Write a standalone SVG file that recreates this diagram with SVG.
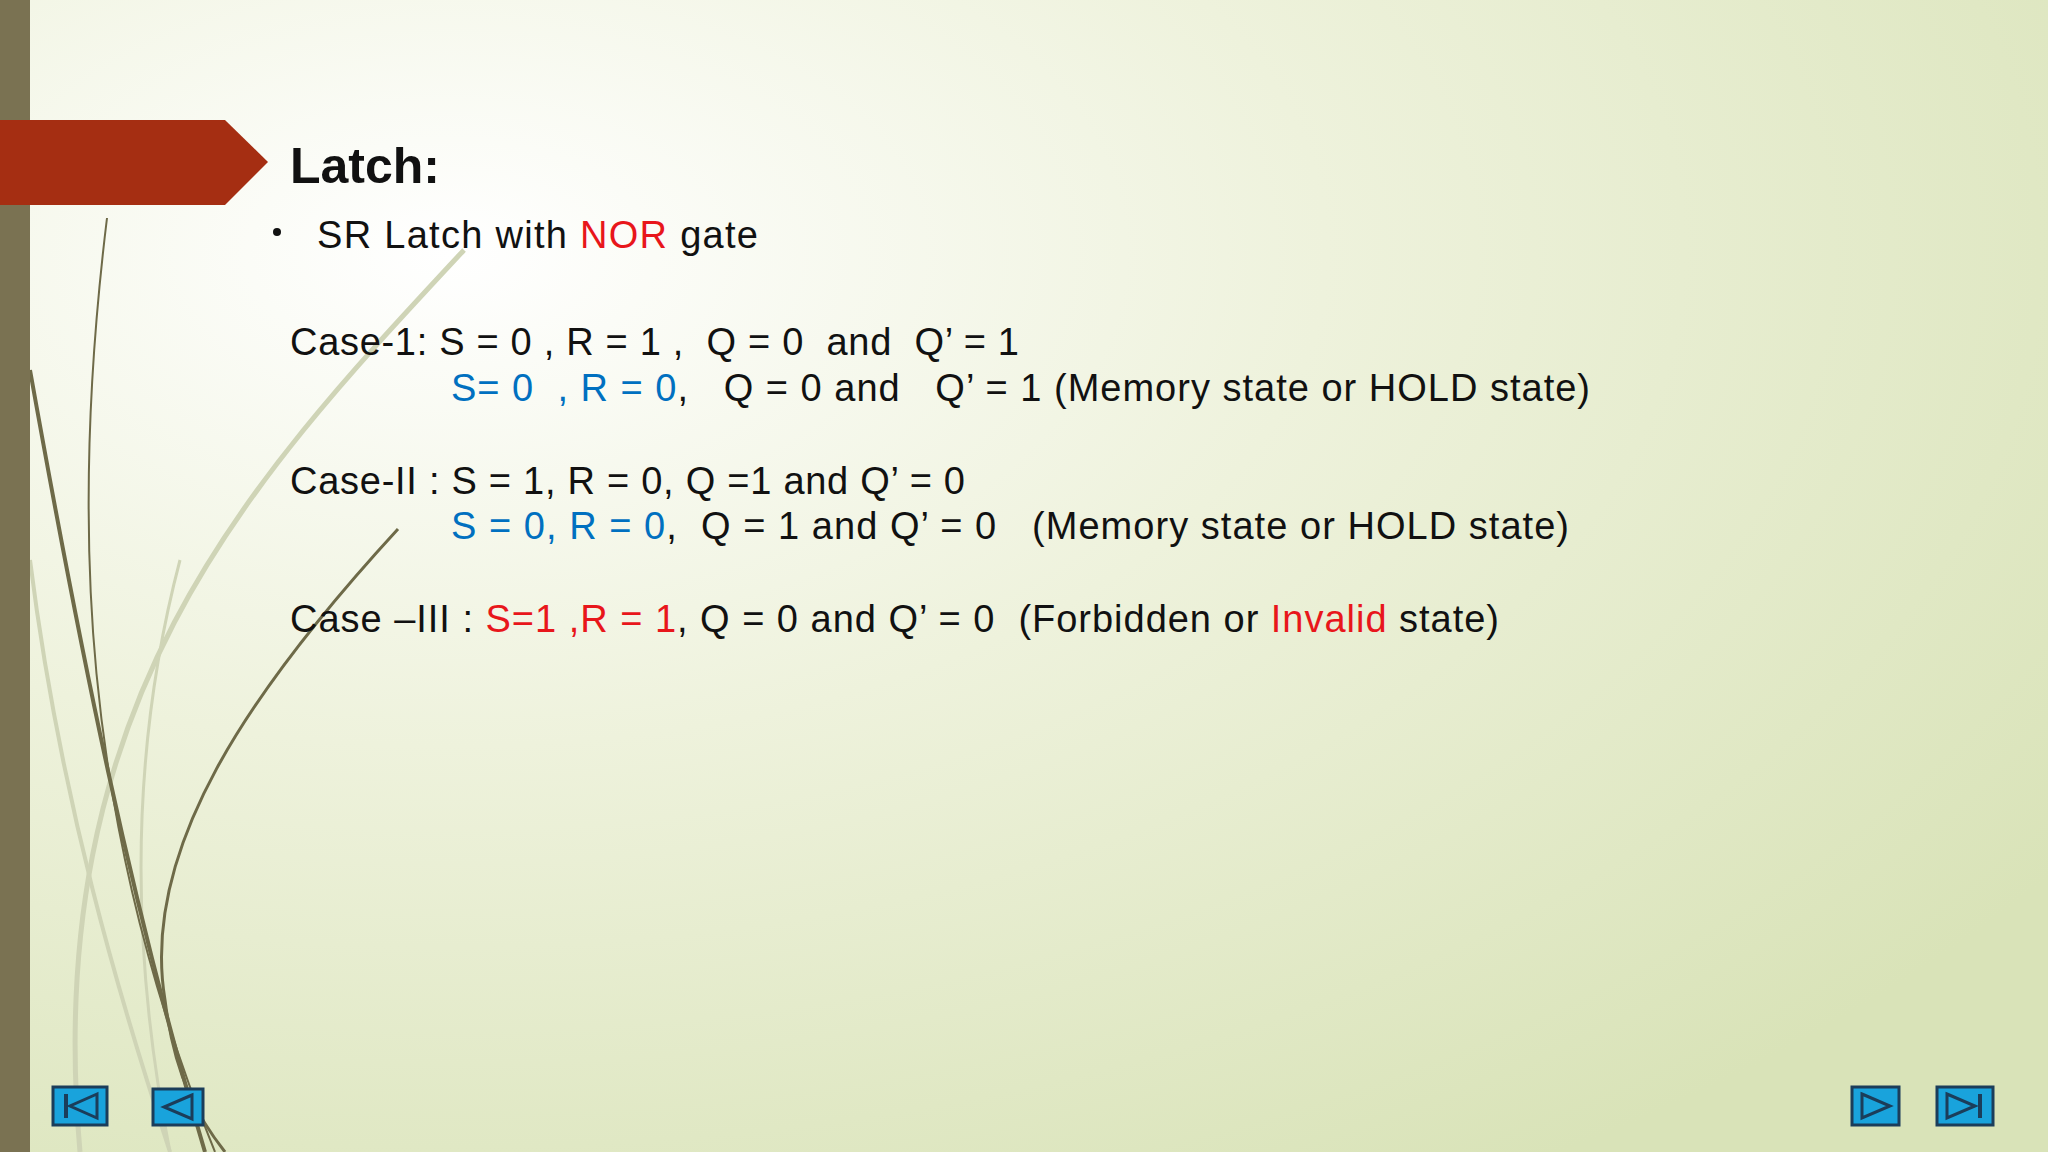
<svg xmlns="http://www.w3.org/2000/svg" width="2048" height="1152" viewBox="0 0 2048 1152">
<defs>
<radialGradient id="bg" cx="0.22" cy="0.22" r="0.95">
<stop offset="0" stop-color="#ffffff"/>
<stop offset="0.45" stop-color="#eef2dc"/>
<stop offset="1" stop-color="#d9e3b8"/>
</radialGradient>
<style>
.t{font-family:"Liberation Sans","DejaVu Sans",sans-serif;font-size:38px;fill:#111}
.b{fill:#0070c0}.r{fill:#e8161b}
.curve{fill:none;stroke:#6e6a48}
.pale{fill:none;stroke:#cfd4b6}
.btn{fill:#19a3dc;stroke:#1b3d5a;stroke-width:3}
.ic{fill:#1b3d5a}
.tri{fill:none;stroke:#1b3d5a;stroke-width:3}
</style>
</defs>
<rect width="2048" height="1152" fill="url(#bg)"/>
<g id="decor">
<path class="pale" stroke-width="5" d="M464,250 C250,480 40,700 80,1152"/>
<path class="pale" stroke-width="4" d="M30,560 C60,800 120,1000 170,1152"/>
<path class="pale" stroke-width="3" d="M180,560 C130,750 130,950 170,1152"/>
<path class="curve" stroke-width="2" d="M107,218 C70,520 80,820 215,1152"/>
<path class="curve" stroke-width="4" d="M30,370 C80,650 130,900 205,1152"/>
<path class="curve" stroke-width="3" d="M398,529 C250,690 140,850 165,1000 C175,1080 200,1120 225,1152"/>
<rect x="0" y="0" width="30" height="1152" fill="#7a7252"/>
<path d="M0,120 L225,120 L268,162 L225,205 L0,205 Z" fill="#a52e12"/>
</g>
<g id="title"><text class="t" x="290" y="183" style="font-weight:bold;font-size:50px">Latch:</text></g>
<g id="bullet">
<circle cx="277" cy="232" r="4" fill="#111"/>
<text class="t" x="317" y="248" textLength="441">SR Latch with <tspan class="r">NOR</tspan> gate</text>
</g>
<g id="case1">
<text class="t" x="290" y="355" xml:space="preserve" textLength="729">Case-1: S = 0 , R = 1 ,  Q = 0  and  Q’ = 1</text>
<text class="t" x="451" y="401" xml:space="preserve" textLength="1139"><tspan class="b">S= 0  , R = 0</tspan>,   Q = 0 and   Q’ = 1 (Memory state or HOLD state)</text>
</g>
<g id="case2">
<text class="t" x="290" y="494" xml:space="preserve" textLength="675">Case-II : S = 1, R = 0, Q =1 and Q’ = 0</text>
<text class="t" x="451" y="539" xml:space="preserve" textLength="1118"><tspan class="b">S = 0, R = 0</tspan>,  Q = 1 and Q’ = 0   (Memory state or HOLD state)</text>
</g>
<g id="case3">
<text class="t" x="290" y="632" xml:space="preserve" textLength="1209">Case –III : <tspan class="r">S=1 ,R = 1</tspan>, Q = 0 and Q’ = 0  (Forbidden or <tspan class="r">Invalid</tspan> state)</text>
</g>
<g id="nav">
<rect class="btn" x="53" y="1087" width="54" height="38"/>
<rect class="ic" x="64" y="1094" width="4" height="24"/><path class="tri" d="M97,1094 L70,1106 L97,1118 Z"/>
<rect class="btn" x="153" y="1089" width="50" height="36"/>
<path class="tri" d="M192,1095 L164,1107 L192,1119 Z"/>
<rect class="btn" x="1852" y="1087" width="47" height="38"/>
<path class="tri" d="M1862,1094 L1890,1106 L1862,1118 Z"/>
<rect class="btn" x="1937" y="1087" width="56" height="38"/>
<path class="tri" d="M1947,1094 L1975,1106 L1947,1118 Z"/><rect class="ic" x="1978" y="1094" width="4" height="24"/>
</g>
</svg>
